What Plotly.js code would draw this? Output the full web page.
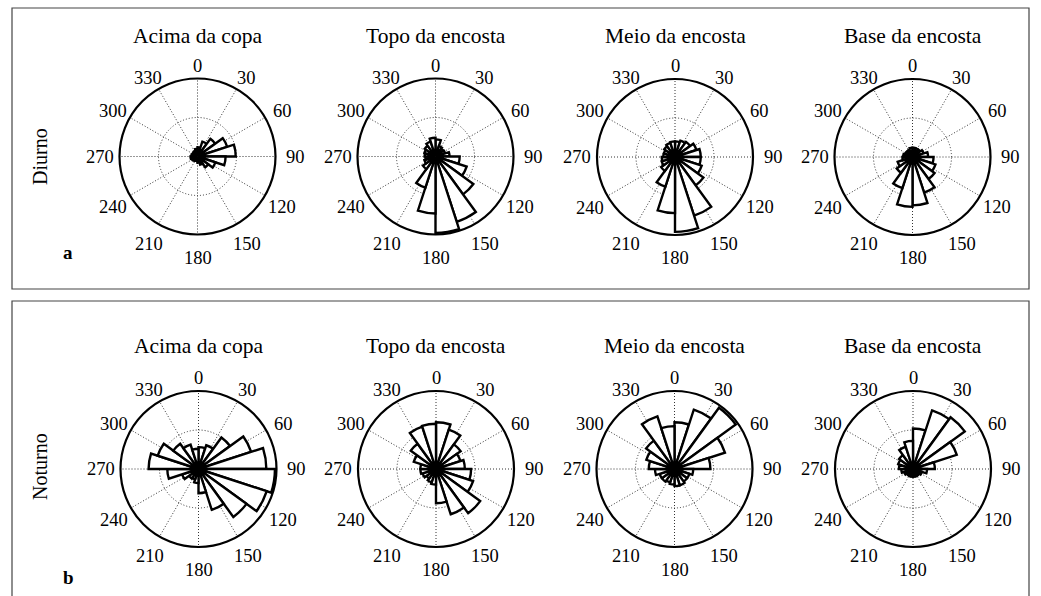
<!DOCTYPE html>
<html>
<head>
<meta charset="utf-8">
<script src="https://cdn.plot.ly/plotly-3.0.1.min.js"></script>
<style>html,body{margin:0;padding:0;background:#fff;}#chart{width:1041px;height:596px;}</style>
</head>
<body>
<div id="chart"></div>
<script>
// Bin centres (degrees, clockwise from north), 20 bins of 18 degrees
const binCenters = [9, 27, 45, 63, 81, 99, 117, 135, 153, 171, 189, 207, 225, 243, 261, 279, 297, 315, 333, 351];
const angleTicks = [0, 30, 60, 90, 120, 150, 180, 210, 240, 270, 300, 330];
const angleTickLabels = ["0", "30", "60", "90", "120", "150", "180", "210", "240", "270", "300", "330"];
const siteNames = ["Acima da copa", "Topo da encosta", "Meio da encosta", "Base da encosta"];
const periodNames = ["Diurno", "Noturno"];
const panelLetters = ["a", "b"];

// Relative frequency per bin (outer circle = 100)
const diurnoAcima  = [12, 20, 28, 40, 49, 36, 24, 17, 11, 8, 6, 6, 7, 8, 9, 8, 7, 7, 8, 10];
const diurnoTopo   = [22, 14, 12, 13, 18, 31, 42, 60, 88, 98, 73, 42, 20, 15, 13, 14, 15, 17, 20, 24];
const diurnoMeio   = [20, 22, 24, 29, 33, 33, 36, 45, 79, 96, 72, 40, 22, 18, 17, 15, 15, 17, 19, 20];
const diurnoBase   = [12, 12, 12, 15, 20, 27, 31, 35, 48, 62, 64, 42, 25, 20, 13, 12, 10, 10, 10, 12];
const noturnoAcima = [28, 32, 50, 71, 87, 98, 92, 76, 55, 31, 18, 14, 15, 22, 40, 64, 55, 40, 33, 26];
const noturnoTopo  = [60, 53, 39, 33, 37, 45, 50, 70, 61, 44, 20, 18, 15, 18, 20, 20, 30, 40, 57, 58];
const noturnoMeio  = [60, 80, 97, 68, 46, 24, 20, 20, 22, 22, 20, 18, 20, 20, 25, 33, 38, 45, 71, 55];
const noturnoBase  = [52, 79, 82, 59, 28, 18, 12, 10, 10, 10, 10, 10, 10, 12, 15, 18, 20, 22, 30, 36];
const radialMax = 100;

const series = [diurnoAcima, diurnoTopo, diurnoMeio, diurnoBase, noturnoAcima, noturnoTopo, noturnoMeio, noturnoBase];

// ---- layout (pixel geometry) ----
const W = 1041, H = 596, R = 78;
const centers = [[197.5,156.5],[435.5,156.5],[675,157],[912.5,157],[198.5,469],[436,469],[674.5,469],[913,469]];
const LABEL_RX = 98, LABEL_RY = 96, LABEL_DROP = 5;   // angular label placement (px), centred labels
const FONT = "Liberation Serif, Times New Roman, serif";

const traces = [];
const layout = {
  width: W, height: H,
  margin: {l:0, r:0, t:0, b:0},
  paper_bgcolor: "#fff",
  showlegend: false,
  font: {family: FONT, color: "#000"},
  annotations: [],
  shapes: []
};

series.forEach((vals, i) => {
  const key = i === 0 ? "polar" : "polar" + (i + 1);
  traces.push({
    type: "barpolar",
    subplot: key,
    r: vals,
    theta: binCenters,
    width: 18,
    marker: {color: "#fff", line: {color: "#000", width: 2.4}},
    hoverinfo: "skip"
  });
  const [cx, cy] = centers[i];
  layout[key] = {
    domain: {x: [(cx - R) / W, (cx + R) / W], y: [(H - cy - R) / H, (H - cy + R) / H]},
    bgcolor: "#fff",
    bargap: 0,
    radialaxis: {
      range: [0, radialMax], tickvals: [radialMax / 2], showticklabels: false, ticks: "",
      showline: false, gridcolor: "#333", griddash: "1px,2px", gridwidth: 1
    },
    angularaxis: {
      direction: "clockwise", rotation: 90, thetaunit: "degrees",
      tickvals: angleTicks, ticktext: angleTickLabels, ticks: "", showticklabels: false,
      showline: true, linecolor: "#000", linewidth: 2.2,
      gridcolor: "#333", griddash: "1px,2px", gridwidth: 1
    }
  };
  // centred angular labels (as in the original figure)
  angleTicks.forEach((deg, j) => {
    const a = deg * Math.PI / 180;
    const px = cx + LABEL_RX * Math.sin(a);
    const py = cy - LABEL_RY * Math.cos(a) + LABEL_DROP * Math.abs(Math.cos(a));
    layout.annotations.push({
      text: angleTickLabels[j], xref: "paper", yref: "paper",
      x: px / W, y: 1 - py / H, xanchor: "center", yanchor: "middle", showarrow: false,
      font: {family: FONT, size: 18.5, color: "#000"}
    });
  });
  layout.annotations.push({
    text: siteNames[i % 4], xref: "paper", yref: "paper",
    x: cx / W, y: 1 - (i < 4 ? 36 : 346) / H,
    xanchor: "center", yanchor: "middle", showarrow: false,
    font: {family: FONT, size: 21.5, color: "#000"}
  });
});

periodNames.forEach((p, k) => {
  layout.annotations.push({
    text: p, xref: "paper", yref: "paper", x: 40 / W, y: 1 - (k === 0 ? 157 : 467) / H,
    xanchor: "center", yanchor: "middle", showarrow: false, textangle: -90,
    font: {family: FONT, size: 20, color: "#000"}
  });
  layout.annotations.push({
    text: "<b>" + panelLetters[k] + "</b>", xref: "paper", yref: "paper", x: 68 / W, y: 1 - (k === 0 ? 253 : 577) / H,
    xanchor: "center", yanchor: "middle", showarrow: false,
    font: {family: FONT, size: 19, color: "#000"}
  });
});

// panel frames
[[12, 8, 1029, 289], [12, 301, 1029, 620]].forEach(b => {
  layout.shapes.push({
    type: "rect", xref: "paper", yref: "paper",
    x0: b[0] / W, x1: b[2] / W, y0: 1 - b[1] / H, y1: 1 - b[3] / H,
    line: {color: "#444", width: 1.2}, fillcolor: "rgba(0,0,0,0)"
  });
});

Plotly.newPlot("chart", traces, layout, {displayModeBar: false, staticPlot: true});
</script>
</body>
</html>
